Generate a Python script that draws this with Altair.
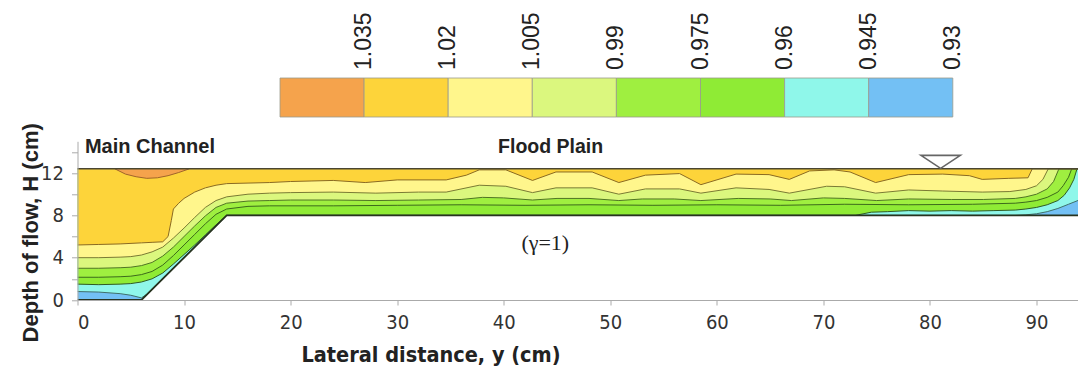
import altair as alt
import pandas as pd

# ---------------- data ----------------
TOP = 12.4          # water surface (cm)
WS_X, WS_H = 81.0, 13.06   # water-surface symbol

BED_X = [0, 6, 14, 94.5]
BED_H = [0, 0, 8, 8]

# contour boundary 0.945 (blue below / cyan above)
C0945_X = [0, 2, 4, 5, 6, 6.6, 14, 88, 89, 90, 91, 92, 93, 94, 94.5]
C0945_H = [0.8, 0.75, 0.6, 0.45, 0.2, 0.6, 8.0, 8.0, 8.05, 8.15, 8.35, 8.65, 9.05, 9.45, 9.65]

# contour boundary 0.96
C0960_X = [0, 2, 4, 5, 6, 7, 8, 9, 10, 11, 12, 13, 14, 73, 74.5, 76, 78, 80, 82, 84, 86, 88,
           89, 90, 91, 92, 92.6, 93.1, 93.5, 93.8, 94.5]
C0960_H = [1.5, 1.45, 1.5, 1.55, 1.7, 2.0, 2.55, 3.4, 4.3, 5.2, 6.15, 7.1, 8.0, 8.0, 8.3, 8.35,
           8.45, 8.4, 8.45, 8.4, 8.45, 8.5, 8.6, 8.75, 9.0, 9.4, 9.9, 10.6, 11.4, 12.4, 12.4]

# contour boundary 0.975
C0975_X = [0, 2, 4, 5, 6, 7, 8, 9, 10, 11, 12, 13, 14, 16, 18, 24, 30, 36, 42, 48, 54, 60, 66,
           72, 78, 84, 88, 89, 90, 91, 92, 92.5, 93, 93.3, 94.5]
C0975_H = [2.15, 2.15, 2.2, 2.25, 2.4, 2.7, 3.3, 4.2, 5.2, 6.2, 7.2, 8.1, 8.6, 8.85, 8.9, 8.9,
           8.95, 9.0, 8.95, 9.0, 8.95, 9.0, 8.95, 9.05, 9.0, 9.05, 9.15, 9.25, 9.4, 9.7, 10.2,
           10.8, 11.6, 12.4, 12.4]

# contour boundary 0.99
C0990_X = [0, 2, 4, 5, 6, 7, 8, 9, 10, 11, 12, 13, 14, 16, 18, 20, 24, 28, 32, 36, 38, 40, 42.7,
           45, 48, 50.8, 53, 56, 58.5, 62, 65, 67, 70, 72, 75, 78, 82, 85, 88, 89, 90, 91, 91.6,
           92.1, 94.5]
C0990_H = [3.0, 3.0, 3.05, 3.1, 3.25, 3.55, 4.15, 5.0, 6.0, 7.0, 7.95, 8.75, 9.15, 9.35, 9.4,
           9.45, 9.45, 9.4, 9.45, 9.5, 9.7, 9.65, 9.45, 9.6, 9.6, 9.4, 9.55, 9.55, 9.4, 9.6, 9.55,
           9.4, 9.65, 9.6, 9.4, 9.55, 9.5, 9.5, 9.6, 9.75, 10.0, 10.5, 11.2, 12.4, 12.4]

# contour boundary 1.005
C1005_X = [0, 2, 4, 5, 6, 7, 8, 9, 10, 11, 12, 13, 14, 16, 18, 20, 24, 28, 32, 34.6, 37.7, 40.2,
           42.7, 44.9, 48.3, 50.8, 53.3, 56.5, 58.5, 61.8, 64.9, 66.8, 70.3, 72, 74.9, 78, 81.2,
           84.9, 87.5, 89, 90, 90.6, 91.1, 94.5]
C1005_H = [4.0, 4.0, 4.05, 4.1, 4.25, 4.55, 5.0, 5.85, 6.8, 7.8, 8.75, 9.4, 9.75, 10.0, 10.1,
           10.15, 10.2, 10.1, 10.2, 10.2, 10.85, 10.75, 10.15, 10.6, 10.6, 10.0, 10.5, 10.5, 10.1,
           10.6, 10.45, 10.1, 10.75, 10.7, 10.1, 10.4, 10.3, 10.2, 10.25, 10.45, 10.8, 11.4, 12.4,
           12.4]

# contour boundary 1.02
C1020_X = [0, 2, 4, 6, 7, 8, 8.5, 8.8, 9.0, 9.5, 10, 11, 12, 13, 14, 16, 18, 20, 22, 24, 27, 30,
           34.6, 36.5, 37.7, 40.2, 42.7, 44.9, 48.3, 50.8, 53.3, 56.5, 58.5, 61.8, 64.9, 66.8,
           68.7, 71, 72.5, 74.9, 78, 81.2, 83.7, 84.9, 87.4, 89.2, 89.6, 94.5]
C1020_H = [5.2, 5.25, 5.3, 5.4, 5.45, 5.5, 6.0, 7.5, 8.6, 9.15, 9.6, 10.2, 10.6, 10.85, 11.0,
           11.05, 11.1, 11.2, 11.25, 11.3, 11.1, 11.35, 11.35, 11.8, 12.3, 12.3, 11.3, 12.1, 12.1,
           11.1, 11.8, 11.95, 10.9, 11.9, 11.85, 11.4, 12.2, 12.3, 12.1, 11.1, 11.85, 11.9, 11.75,
           11.4, 11.5, 11.55, 12.4, 12.4]

# contour boundary 1.035
C1035_X = [3.5, 4.5, 5.5, 6.5, 7.5, 8.5, 9.5, 10.5]
C1035_H = [12.4, 11.9, 11.65, 11.5, 11.55, 11.75, 12.05, 12.4]

BAND_LABELS = ["1.035", "1.02", "1.005", "0.99", "0.975", "0.96", "0.945", "0.93"]
BAND_COLORS = ["#F5A34C", "#FDD43A", "#FFF68C", "#DBF77E", "#9FEF40", "#8FEB35", "#8FF7EA", "#73C0F4"]
ORANGE, GOLD, LYEL, YGRN, GRN1, GRN2, CYAN, BLUE = BAND_COLORS

# ---------------- layout ----------------
PX_PER_CM = 10.656
W = 1000.5
H = 158.7
PAD = {"left": 69.5, "top": 133.3, "right": 0, "bottom": 68}
XDOM = [0, W / PX_PER_CM]
YDOM = [0, 15]
NARROW = "Liberation Sans Narrow, Arial Narrow, DejaVu Sans Condensed, sans-serif"

xaxis = alt.Axis(values=list(range(0, 100, 10)), grid=False, domainColor="#aaaaaa",
                 tickColor="#aaaaaa", tickSize=5, labelFont=NARROW, labelFontSize=20,
                 labelColor="#333333", labelPadding=7, title="Lateral distance, y (cm)",
                 titleFont=NARROW, titleFontSize=21.5, titleFontWeight="bold", titleColor="#222222",
                 titleX=353, titleY=55, titleBaseline="middle", zindex=1)
yaxis = alt.Axis(values=list(range(0, 16, 2)), grid=False, domainColor="#aaaaaa",
                 tickColor="#aaaaaa", tickSize=6, labelFont=NARROW, labelFontSize=20,
                 labelColor="#333333", labelPadding=8,
                 labelExpr="datum.value % 4 === 0 ? datum.label : ''",
                 title="Depth of flow, H (cm)", titleFont="Liberation Sans", titleFontSize=22,
                 titleFontWeight="bold", titleColor="#222222", titleX=-47, titleY=91,
                 titleAlign="center", titleBaseline="middle", titleAngle=270, zindex=1)

xenc = alt.X("x:Q", scale=alt.Scale(domain=XDOM, nice=False, zero=False), axis=xaxis)
yenc = alt.Y("h:Q", scale=alt.Scale(domain=YDOM, nice=False, zero=False), axis=yaxis)


def frame(xs, hs):
    return pd.DataFrame({"x": xs, "h": hs})


bounds = [
    (BED_X, BED_H, BLUE, None),
    (C0945_X, C0945_H, CYAN, "#3f6f6a"),
    (C0960_X, C0960_H, GRN2, "#2f5a25"),
    (C0975_X, C0975_H, GRN1, "#3d6a1c"),
    (C0990_X, C0990_H, YGRN, "#4f7424"),
    (C1005_X, C1005_H, LYEL, "#7a7a34"),
    (C1020_X, C1020_H, GOLD, "#8a6a22"),
    (C1035_X, C1035_H, ORANGE, "#a0642a"),
]

areas, lines = [], []
for xs, hs, col, lcol in bounds:
    df = frame(xs, hs)
    areas.append(alt.Chart(df).mark_area(color=col, opacity=1, interpolate="linear", clip=True)
                 .encode(x=xenc, y=yenc, y2=alt.datum(TOP)))
    if lcol:
        lines.append(alt.Chart(df).mark_line(color=lcol, strokeWidth=1.0, interpolate="linear",
                                             clip=True)
                     .encode(x=xenc, y=yenc))

bed_line = alt.Chart(frame(BED_X, BED_H)).mark_line(color="#27331f", strokeWidth=1.8, clip=True).encode(
    x=xenc, y=yenc)
top_line = alt.Chart(frame([0], [TOP])).mark_rule(color="#4a4632", strokeWidth=1.5).encode(
    y=alt.Y("h:Q", scale=alt.Scale(domain=YDOM, nice=False, zero=False), axis=yaxis))

tri = alt.Chart(frame([WS_X], [WS_H])).mark_point(
    shape="M-1,-0.33L1,-0.33L0,0.33Z", size=1550, filled=True, fill="white",
    stroke="#666666", strokeWidth=1.6, opacity=1).encode(x=xenc, y=yenc)

LABELS = pd.DataFrame({"x": [0.7, 44.4], "h": [14.42, 14.42],
                       "t": ["Main Channel", "Flood Plain"]})
lab1 = alt.Chart(LABELS.iloc[[0]]).mark_text(align="left", baseline="middle", font="Liberation Sans",
                                              fontSize=20, fontWeight="bold", color="#222222").encode(
    x=xenc, y=yenc, text="t:N")
lab2 = alt.Chart(LABELS.iloc[[1]]).mark_text(align="center", baseline="middle", font="Liberation Sans",
                                              fontSize=19.5, fontWeight="bold", color="#222222").encode(
    x=xenc, y=yenc, text="t:N")
gam = alt.Chart(pd.DataFrame({"x": [43.9], "h": [5.4], "t": ["(\u03b3=1)"]})).mark_text(
    align="center", baseline="middle", font="Liberation Serif", fontSize=22, color="#222222").encode(
    x=xenc, y=yenc, text="t:N")

main = alt.layer(*areas, *lines, bed_line, top_line, tri, lab1, lab2, gam)

# ---------------- colour bar ----------------
CB_LEFT_PX = 202.5   # from plot left
CB_BIN_PX = 84.1
lo = -CB_LEFT_PX / CB_BIN_PX
hi = lo + W / CB_BIN_PX
cb_scale = alt.Scale(domain=[lo, hi], nice=False, zero=False)
cb = pd.DataFrame({"i": list(range(8)), "i2": [k + 1 for k in range(8)], "band": BAND_LABELS})
CB_Y0, CB_Y1 = -63.3, -24.3
cb_rect = alt.Chart(cb).mark_rect(stroke="#9a9a8a", strokeWidth=0.8).encode(
    x=alt.X("i:Q", scale=cb_scale, axis=None), x2="i2:Q",
    y=alt.value(CB_Y0), y2=alt.value(CB_Y1),
    color=alt.Color("band:N", scale=alt.Scale(domain=BAND_LABELS, range=BAND_COLORS), legend=None))
cb_text = alt.Chart(cb).mark_text(angle=270, align="left", baseline="middle",
                                  font="Liberation Sans", fontSize=23, color="#222222").encode(
    x=alt.X("i2:Q", scale=cb_scale, axis=None), y=alt.value(CB_Y0 - 8), text="band:N")
cbar = alt.layer(cb_rect, cb_text)

chart = alt.layer(main, cbar).resolve_scale(x="independent", color="independent").properties(
    width=W, height=H, autosize=alt.AutoSizeParams(type="none"), padding=PAD
).configure_view(stroke=None)

chart.save("out.html", embed_options={"renderer": "svg", "actions": False})
